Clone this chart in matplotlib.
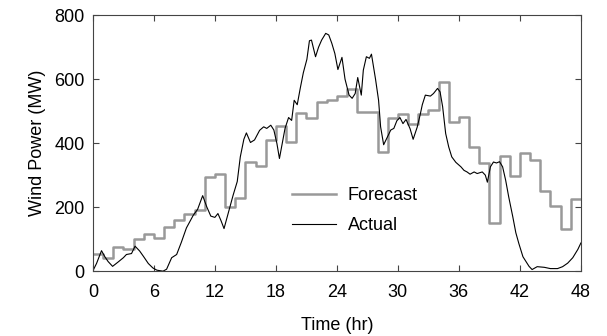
import numpy as np
import matplotlib
matplotlib.use("Agg")
import matplotlib.pyplot as plt

plt.rcParams['font.family'] = ['Liberation Sans', 'DejaVu Sans']

# Hourly forecast (MW), one value per hour 0..47
forecast = [53, 42, 76, 68, 100, 117, 105, 139, 161, 179, 190, 295, 305, 200,
            228, 341, 329, 409, 453, 404, 493, 477, 529, 534, 546, 568, 496, 496,
            373, 478, 491, 459, 490, 505, 592, 467, 482, 388, 338, 152, 359, 298,
            370, 347, 251, 204, 133, 227]
fc_hours = np.arange(len(forecast) + 1)

# Actual wind power
act_t = [0.0, 0.36, 0.85, 1.18, 1.5, 1.94, 2.5, 3.0, 3.3, 3.8, 4.15, 4.6, 5.0,
         5.45, 5.9, 6.3, 6.9, 7.25, 7.75, 8.24, 8.7, 9.2, 9.88, 10.3, 10.8,
         11.2, 11.6, 12.0, 12.3, 12.6, 12.9, 13.3, 13.8, 14.2, 14.5, 14.85,
         15.1, 15.5, 15.9, 16.4, 16.8, 17.1, 17.5, 17.8, 18.1, 18.35, 18.6,
         18.9, 19.25, 19.55, 19.8, 20.1, 20.4, 20.7, 21.05, 21.3, 21.5, 21.9,
         22.2, 22.5, 22.9, 23.2, 23.5, 23.8, 24.1, 24.5, 24.8, 25.2, 25.5,
         25.8, 26.05, 26.4, 26.6, 26.9, 27.2, 27.4, 27.8, 28.1, 28.3, 28.6,
         28.9, 29.3, 29.6, 29.9, 30.2, 30.5, 30.8, 31.2, 31.5, 31.9, 32.2,
         32.4, 32.7, 33.2, 33.5, 33.9, 34.15, 34.4, 34.7, 35.0, 35.3, 35.7,
         36.2, 36.5, 36.8, 37.1, 37.5, 37.8, 38.3, 38.6, 38.8, 39.1, 39.4,
         39.7, 40.0, 40.3, 40.6, 40.9, 41.3, 41.6, 41.9, 42.3, 42.9, 43.2,
         43.7, 44.4, 45.0, 45.7, 46.2, 46.7, 47.2, 47.7, 48.0]
act_mw = [1, 24, 64, 45, 30, 15, 29, 42, 52, 55, 78, 63, 45, 24, 10, 3, 0, 6,
          42, 52, 90, 135, 175, 193, 236, 201, 172, 168, 180, 158, 133, 180,
          238, 280, 357, 412, 432, 402, 410, 440, 451, 446, 456, 441, 399, 352,
          395, 446, 480, 471, 534, 520, 572, 620, 662, 720, 722, 670, 700, 722,
          743, 738, 712, 680, 630, 668, 600, 550, 540, 555, 605, 550, 628, 670,
          665, 678, 600, 534, 451, 395, 415, 441, 446, 470, 480, 461, 474, 445,
          412, 450, 490, 520, 550, 547, 555, 571, 560, 514, 430, 388, 357, 340,
          326, 315, 310, 303, 310, 305, 310, 300, 278, 326, 341, 338, 342, 326,
          284, 232, 170, 120, 86, 45, 15, 5, 14, 12, 8, 8, 14, 25, 42, 68, 88]

fs = 13

fig = plt.figure(figsize=(6.07, 3.36), dpi=100)
ax = fig.add_axes([0.153, 0.193, 0.804, 0.762])

ax.step(fc_hours, forecast + [forecast[-1]], where='post', color='#999999',
        lw=1.8, label='Forecast')
ax.plot(act_t, act_mw, color='black', lw=0.8, label='Actual')

ax.set_xlim(0, 48)
ax.set_ylim(0, 800)
ax.set_xticks(range(0, 49, 6))
ax.set_yticks(range(0, 801, 200))
ax.tick_params(axis='x', pad=9)
ax.tick_params(axis='y', pad=6)
ax.tick_params(direction='in', top=True, right=True, length=4,
               labelsize=fs, color='#444444')
for s in ax.spines.values():
    s.set_color('#444444')
    s.set_linewidth(0.8)

ax.set_xlabel('Time (hr)', fontsize=fs, labelpad=12)
ax.set_ylabel('Wind Power (MW)', fontsize=fs, labelpad=6)

ax.legend(loc='center', bbox_to_anchor=(0.537, 0.236), frameon=False,
          fontsize=fs, handlelength=2.4, handletextpad=0.65,
          labelspacing=0.75)

fig.savefig('out.png', dpi=100)
